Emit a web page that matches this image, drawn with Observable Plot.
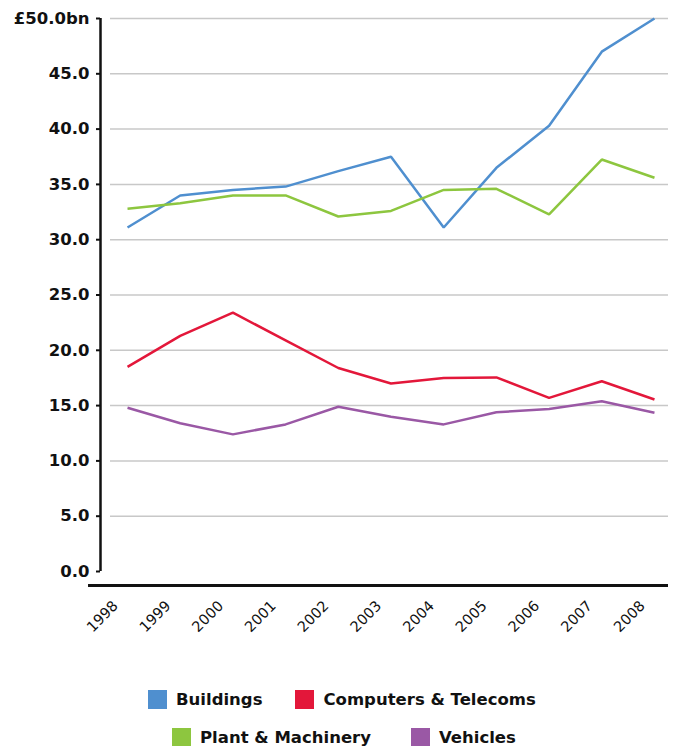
<!DOCTYPE html>
<html>
<head>
<meta charset="utf-8">
<script src="https://cdn.jsdelivr.net/npm/d3@7"></script>
<script src="https://cdn.jsdelivr.net/npm/@observablehq/plot@0.6"></script>
<style>
  html, body { margin: 0; padding: 0; background: #fff; }
  #chart { width: 678px; }
  .legend { font-family: "DejaVu Sans", sans-serif; font-weight: bold; font-size: 16.5px; color: #111; }
  .row { display: flex; align-items: center; height: 19px; }
  .item { display: flex; align-items: center; }
  .sw { width: 19px; height: 19px; margin-right: 9px; display: inline-block; }
</style>
</head>
<body>
<div id="chart"></div>
<script>
const years = [1998, 1999, 2000, 2001, 2002, 2003, 2004, 2005, 2006, 2007, 2008];
const buildings = [31.1, 34.0, 34.5, 34.8, 36.2, 37.5, 31.1, 36.5, 40.3, 47.0, 50.0];
const plantMachinery = [32.8, 33.3, 34.0, 34.0, 32.1, 32.6, 34.5, 34.6, 32.3, 37.25, 35.6];
const computersTelecoms = [18.5, 21.3, 23.4, 20.9, 18.4, 17.0, 17.5, 17.55, 15.7, 17.2, 15.55];
const vehicles = [14.8, 13.4, 12.4, 13.3, 14.9, 14.0, 13.3, 14.4, 14.7, 15.4, 14.35];
const seriesNames = ["Buildings", "Computers & Telecoms", "Plant & Machinery", "Vehicles"];
const seriesColors = ["#4f8fcf", "#e3173a", "#8dc63f", "#9a58a5"];
const yTicks = [0, 5, 10, 15, 20, 25, 30, 35, 40, 45, 50];

const seriesValues = [buildings, computersTelecoms, plantMachinery, vehicles];
const rows = [];
seriesNames.forEach((name, i) => {
  years.forEach((yr, j) => rows.push({series: name, year: yr, value: seriesValues[i][j]}));
});

const xMin = 1997.677, xMax = 2008.266;

const chart = Plot.plot({
  width: 678,
  height: 660,
  marginTop: 18,
  marginBottom: 89,
  marginLeft: 110,
  marginRight: 10,
  style: {fontFamily: "DejaVu Sans, sans-serif", color: "#111", background: "#fff"},
  x: {type: "linear", domain: [xMin, xMax], axis: null},
  y: {domain: [0, 50], axis: null},
  color: {domain: seriesNames, range: seriesColors},
  marks: [
    Plot.gridY(yTicks.filter(d => d > 0), {stroke: "#c8c8c8", strokeOpacity: 1, strokeWidth: 1.5}),
    Plot.axisY(yTicks, {
      dx: -10, tickSize: 4, tickPadding: 7, strokeWidth: 2, label: null,
      tickFormat: d => d === 50 ? "£50.0bn" : d.toFixed(1),
      fontWeight: "bold", fontSize: 16.5, fill: "#111"
    }),
    Plot.ruleX([xMin], {y1: 0, y2: 50, dx: -10, stroke: "#111", strokeWidth: 2.5}),
    Plot.axisX(years, {
      tickSize: 0, tickPadding: 32, tickRotate: -45, dx: -12, label: null,
      tickFormat: d => String(d), fontSize: 14.5, fill: "#111"
    }),
    Plot.ruleY([0], {x1: 1997.26, x2: xMax, dy: 14, stroke: "#111", strokeWidth: 3}),
    Plot.line(rows, {x: "year", y: "value", z: "series", stroke: "series", strokeWidth: 2.5, strokeLinejoin: "miter", strokeLinecap: "butt"})
  ]
});
document.getElementById("chart").appendChild(chart);
</script>
<div class="legend">
  <div class="row" style="margin-top:30px; padding-left:148px; gap:33px;">
    <div class="item"><span class="sw" style="background:#4f8fcf"></span>Buildings</div>
    <div class="item"><span class="sw" style="background:#e3173a"></span>Computers &amp; Telecoms</div>
  </div>
  <div class="row" style="margin-top:19px; padding-left:172px; gap:40px;">
    <div class="item"><span class="sw" style="background:#8dc63f"></span>Plant &amp; Machinery</div>
    <div class="item"><span class="sw" style="background:#9a58a5"></span>Vehicles</div>
  </div>
</div>
</body>
</html>
